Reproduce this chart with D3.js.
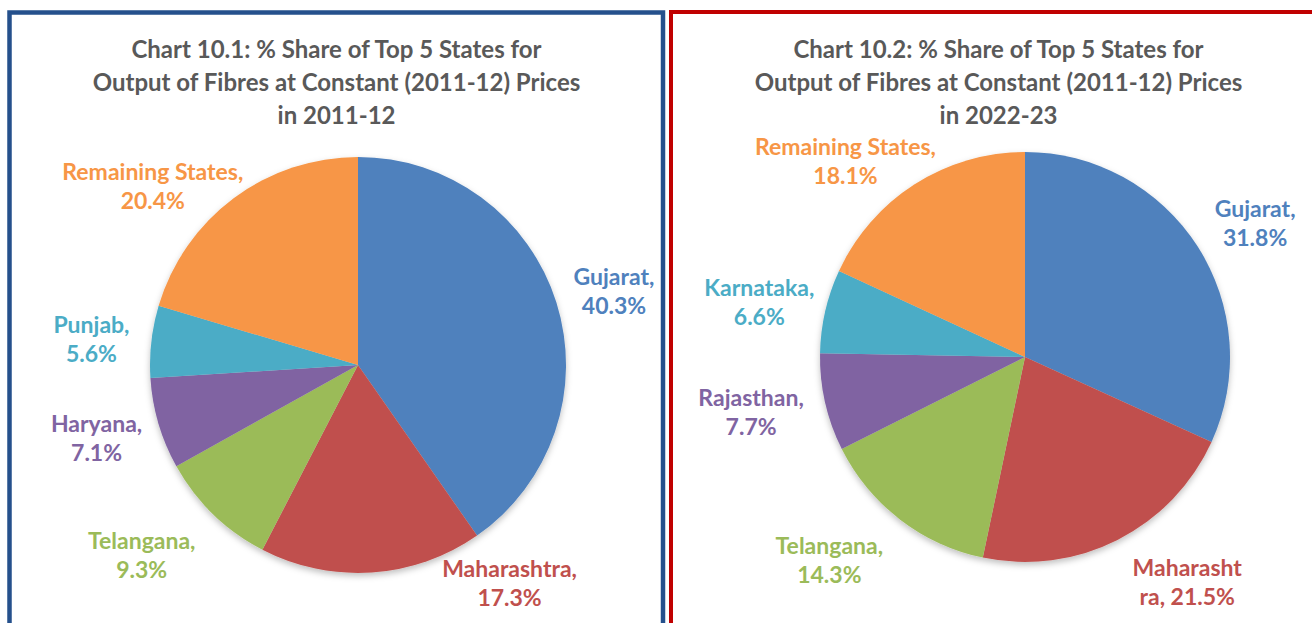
<!DOCTYPE html>
<html lang="en">
<head>
<meta charset="UTF-8"/>
<title>Top 5 States - Output of Fibres</title>
<script src="https://d3js.org/d3.v7.min.js"></script>
<style>
  body { margin: 0; background: #ffffff; }
  svg { display: block; font-family: Lato, "Open Sans", sans-serif; }
</style>
</head>
<body>
<div id="chart"></div>
<script>
// data for the two pies
var states1 = ["Gujarat", "Maharashtra", "Telangana", "Haryana", "Punjab", "Remaining States"];
var shares1 = [40.3, 17.3, 9.3, 7.1, 5.6, 20.4];
var title1 = ["Chart 10.1: % Share of Top 5 States for", "Output of Fibres at Constant (2011-12) Prices", "in 2011-12"];

var states2 = ["Gujarat", "Maharashtra", "Telangana", "Rajasthan", "Karnataka", "Remaining States"];
var shares2 = [31.8, 21.5, 14.3, 7.7, 6.6, 18.1];
var title2 = ["Chart 10.2: % Share of Top 5 States for", "Output of Fibres at Constant (2011-12) Prices", "in 2022-23"];

// colours in slice order
var colors = ["#4F81BD", "#C0504D", "#9BBB59", "#8064A2", "#4BACC6", "#F79646"];

var w = 1312, h = 623;

var svg = d3.select("#chart").append("svg")
    .attr("width", w)
    .attr("height", h);

// soft shadow under the pies
var defs = svg.append("defs");
var f = defs.append("filter").attr("id", "shadow")
    .attr("x", "-10%").attr("y", "-10%").attr("width", "120%").attr("height", "125%");
f.append("feDropShadow").attr("dx", 0).attr("dy", 3).attr("stdDeviation", 3)
    .attr("flood-color", "#000").attr("flood-opacity", 0.25);

var panels = [
  { states: states1, shares: shares1, title: title1, x: 9.5, y: 12.5, width: 653.5, border: "#25508C", bw: 4.5,
    cx: 358, cy: 365, r: 208, lr: 1.28, titleX: 336.5,
    // excel "best fit" label shifts (px) from the radial position
    nudge: [[2, 6], [134, -48], [-31, -1], [-6, -2], [-2, 4], [-46, 34]],
    labels: [["Gujarat,", "40.3%"], ["Maharashtra,", "17.3%"], ["Telangana,", "9.3%"],
             ["Haryana,", "7.1%"], ["Punjab,", "5.6%"], ["Remaining States,", "20.4%"]] },
  { states: states2, shares: shares2, title: title2, x: 671, y: 12, width: 660, border: "#C00000", bw: 4,
    cx: 1025, cy: 357, r: 205, lr: 1.3, titleX: 998.5,
    nudge: [[6, 10], [42, -13], [-33, -8], [-14, -4], [-6, 5], [-36, 29]],
    labels: [["Gujarat,", "31.8%"], ["Maharasht", "ra, 21.5%"], ["Telangana,", "14.3%"],
             ["Rajasthan,", "7.7%"], ["Karnataka,", "6.6%"], ["Remaining States,", "18.1%"]] }
];

var pie = d3.pie().sort(null).value(function(d) { return d; });

panels.forEach(function(p) {
  var g = svg.append("g");

  // frame, open at the bottom of the picture
  g.append("rect")
    .attr("x", p.x).attr("y", p.y)
    .attr("width", p.width).attr("height", h + 20)
    .attr("fill", "none")
    .attr("stroke", p.border)
    .attr("stroke-width", p.bw);

  g.append("text")
    .attr("text-anchor", "middle")
    .attr("font-size", 24)
    .attr("font-weight", "bold")
    .attr("fill", "#595959")
    .selectAll("tspan")
    .data(p.title)
    .enter()
    .append("tspan")
    .attr("x", p.titleX)
    .attr("y", function(d, i) { return 58 + i * 33; })
    .text(function(d) { return d; });

  var arcs = pie(p.shares);
  var arc = d3.arc().innerRadius(0).outerRadius(p.r);
  var labelArc = d3.arc().innerRadius(p.r * p.lr).outerRadius(p.r * p.lr);

  var pieG = g.append("g")
    .attr("transform", "translate(" + p.cx + "," + p.cy + ")");

  pieG.append("g")
    .attr("filter", "url(#shadow)")
    .selectAll("path")
    .data(arcs)
    .enter()
    .append("path")
    .attr("d", arc)
    .attr("fill", function(d, i) { return colors[i]; });

  var lbl = pieG.selectAll("text.lbl")
    .data(arcs)
    .enter()
    .append("text")
    .attr("class", "lbl")
    .attr("text-anchor", "middle")
    .attr("font-size", 23)
    .attr("font-weight", "bold")
    .attr("fill", function(d, i) { return colors[i]; })
    .attr("transform", function(d, i) {
      var c = labelArc.centroid(d);
      return "translate(" + (c[0] + p.nudge[i][0]) + "," + (c[1] + p.nudge[i][1]) + ")";
    });

  lbl.append("tspan").attr("x", 0).attr("y", -6)
    .text(function(d, i) { return p.labels[i][0]; });
  lbl.append("tspan").attr("x", 0).attr("y", 23)
    .text(function(d, i) { return p.labels[i][1]; });
});
</script>
</body>
</html>
